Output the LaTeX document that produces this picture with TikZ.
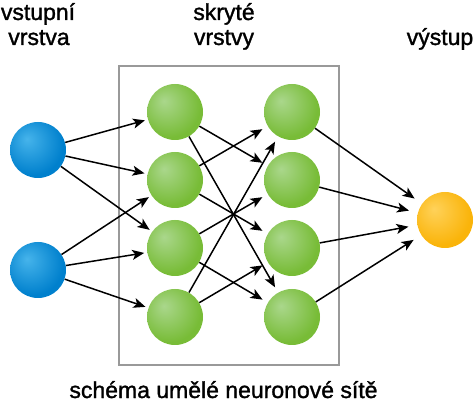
\documentclass[tikz,border=0pt]{standalone}
\usepackage{fontspec}
\setmainfont{Liberation Sans}
\newfontfamily\lblfont{Liberation Sans}[FakeBold=1.3]
\usetikzlibrary{arrows.meta}
\definecolor{bluelight}{RGB}{70,180,235}
\definecolor{bluebase}{RGB}{0,128,205}
\definecolor{bluerim}{RGB}{0,100,175}
\definecolor{greenlight}{RGB}{170,215,140}
\definecolor{greenbase}{RGB}{120,188,55}
\definecolor{greenrim}{RGB}{100,170,40}
\definecolor{orangelight}{RGB}{255,210,90}
\definecolor{orangebase}{RGB}{250,180,10}
\definecolor{orangerim}{RGB}{240,160,0}
\pgfdeclareradialshading{blueball}{\pgfpoint{-10bp}{10bp}}{color(0bp)=(bluelight); color(28bp)=(bluebase); color(48bp)=(bluebase); color(62bp)=(bluerim)}
\pgfdeclareradialshading{greenball}{\pgfpoint{-10bp}{10bp}}{color(0bp)=(greenlight); color(28bp)=(greenbase); color(48bp)=(greenbase); color(62bp)=(greenrim)}
\pgfdeclareradialshading{orangeball}{\pgfpoint{-10bp}{10bp}}{color(0bp)=(orangelight); color(28bp)=(orangebase); color(48bp)=(orangebase); color(62bp)=(orangerim)}
\tikzset{
  neuron/.style={circle, minimum size=56pt, inner sep=0pt},
  inneuron/.style={neuron, shading=blueball},
  hidneuron/.style={neuron, shading=greenball},
  outneuron/.style={neuron, shading=orangeball},
  link/.style={-{Stealth[length=12pt, width=10pt, inset=3pt]}, line width=1.5pt, shorten >=6pt},
  label/.style={font=\lblfont\fontsize{23}{25}\selectfont, anchor=base, inner sep=0pt}
}
\begin{document}
\begin{tikzpicture}[x=1pt, y=-1pt]
\useasboundingbox (0,0) rectangle (474,403);
% box round the hidden layers
\node [draw=black!40, line width=1.2pt, minimum width=220pt, minimum height=299pt, inner sep=0pt] (frame) at (229,215.5) {};
% neurons
\node [inneuron] (i1) at (38,150) {};
\node [inneuron] (i2) at (38,270) {};
\node [hidneuron] (a1) at (175,112) {};
\node [hidneuron] (a2) at (175,180) {};
\node [hidneuron] (a3) at (175,248) {};
\node [hidneuron] (a4) at (175,317) {};
\node [hidneuron] (b1) at (292,112) {};
\node [hidneuron] (b2) at (292,180) {};
\node [hidneuron] (b3) at (292,248) {};
\node [hidneuron] (b4) at (292,317) {};
\node [outneuron] (out) at (445,220) {};
% connections
\draw [link, shorten >=3pt] (i1)--(a1);
\draw [link, shorten >=3pt] (i1)--(a2);
\draw [link, shorten >=3pt] (i1)--(a3);
\draw [link, shorten >=3pt] (i2)--(a2);
\draw [link, shorten >=3pt] (i2)--(a3);
\draw [link, shorten >=3pt] (i2)--(a4);
\draw [link] (a1)--(b2);
\draw [link] (a1)--(b4);
\draw [link] (a2)--(b1);
\draw [link] (a2)--(b3);
\draw [link] (a3)--(b2);
\draw [link] (a3)--(b4);
\draw [link] (a4)--(b1);
\draw [link] (a4)--(b3);
\draw [link, shorten >=9pt] (b1)--(out);
\draw [link, shorten >=9pt] (b2)--(out);
\draw [link, shorten >=9pt] (b3)--(out);
\draw [link, shorten >=9pt] (b4)--(out);
% labels
\node [label] (inlbl1) at (38,20) {vstupní};
\node [label] (inlbl2) at (39,45) {vrstva};
\node [label] (hidlbl1) at (224,20) {skryté};
\node [label] (hidlbl2) at (224,45) {vrstvy};
\node [label] (outlbl) at (440,45) {výstup};
\node [label] (caption) at (223.5,398) {schéma umělé neuronové sítě};
\end{tikzpicture}
\end{document}
